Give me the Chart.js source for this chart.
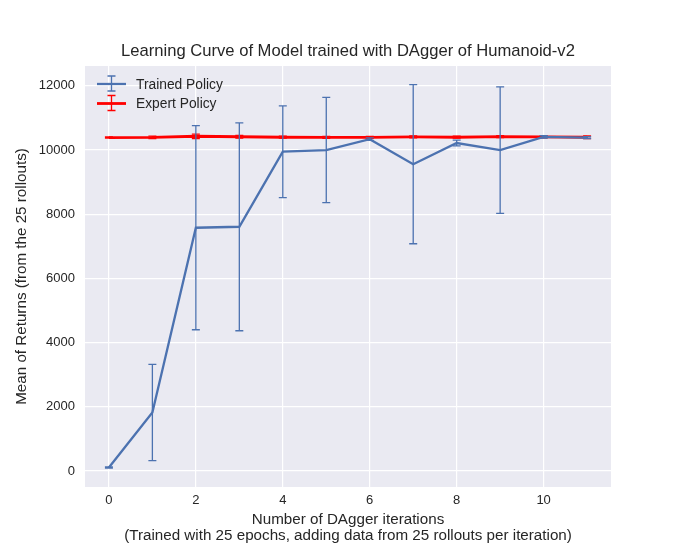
<!DOCTYPE html>
<html>
<head>
<meta charset="utf-8">
<script src="https://cdn.jsdelivr.net/npm/chart.js@4"></script>
<style>
  html, body { margin: 0; padding: 0; background: #fff; }
  #wrap { width: 679px; height: 547px; }
</style>
</head>
<body>
<div id="wrap"><canvas id="chart"></canvas></div>
<script>
// data
const iterations = [0, 1, 2, 3, 4, 5, 6, 7, 8, 9, 10, 11];
const trainedMean = [110, 1820, 7580, 7610, 9950, 10000, 10340, 9560, 10220, 10000, 10410, 10390];
const trainedStd = [20, 1500, 3180, 3240, 1430, 1640, 40, 2480, 90, 1970, 40, 30];
const expertMean = [10390, 10395, 10430, 10415, 10400, 10395, 10395, 10410, 10400, 10420, 10410, 10400];
const expertStd = [20, 40, 70, 40, 30, 30, 30, 30, 30, 30, 30, 40];
const xTicks = [0, 2, 4, 6, 8, 10];
const yTicks = [0, 2000, 4000, 6000, 8000, 10000, 12000];
const chartTitle = "Learning Curve of Model trained with DAgger of Humanoid-v2";

const BLUE = "#4C72B0";
const RED = "#FF0000";
const TEXT = "#262626";
const FONT = "'Liberation Sans', Arial, sans-serif";

function points(means) {
  return iterations.map((x, i) => ({ x: x, y: means[i] }));
}

// grey plot area like the seaborn darkgrid style, title centred over it
const background = {
  id: "background",
  beforeDraw(chart) {
    const { ctx, chartArea: a } = chart;
    ctx.save();
    ctx.fillStyle = "#EAEAF2";
    ctx.fillRect(a.left, a.top, a.right - a.left, a.bottom - a.top);
    ctx.fillStyle = TEXT;
    ctx.font = "16.6px " + FONT;
    ctx.textAlign = "center";
    ctx.textBaseline = "middle";
    ctx.fillText(chartTitle, (a.left + a.right) / 2, 51);
    ctx.restore();
  }
};

// vertical error bars with caps, drawn right after each dataset's line
const errorBars = {
  id: "errorBars",
  afterDatasetDraw(chart, args) {
    const ds = chart.data.datasets[args.index];
    if (!ds.errors) return;
    const { ctx, scales: { x, y } } = chart;
    ctx.save();
    ctx.strokeStyle = ds.borderColor;
    ctx.lineWidth = 1.3;
    ds.data.forEach((p, i) => {
      const px = x.getPixelForValue(p.x);
      const top = y.getPixelForValue(p.y + ds.errors[i]);
      const bot = y.getPixelForValue(p.y - ds.errors[i]);
      ctx.beginPath();
      ctx.moveTo(px, top); ctx.lineTo(px, bot);
      ctx.moveTo(px - 4, top); ctx.lineTo(px + 4, top);
      ctx.moveTo(px - 4, bot); ctx.lineTo(px + 4, bot);
      ctx.stroke();
    });
    ctx.restore();
  }
};

// legend in the upper left corner, with errorbar symbols
const errLegend = {
  id: "errLegend",
  afterDraw(chart) {
    const { ctx } = chart;
    const entries = chart.data.datasets;
    ctx.save();
    entries.forEach((ds, i) => {
      const cy = 84 + i * 19.5;
      ctx.strokeStyle = ds.borderColor;
      ctx.lineWidth = ds.borderWidth;
      ctx.beginPath();
      ctx.moveTo(97, cy); ctx.lineTo(126, cy);
      ctx.stroke();
      ctx.lineWidth = 1.3;
      ctx.beginPath();
      ctx.moveTo(111.5, cy - 8); ctx.lineTo(111.5, cy + 7);
      ctx.moveTo(107.5, cy - 8); ctx.lineTo(115.5, cy - 8);
      ctx.moveTo(107.5, cy + 7); ctx.lineTo(115.5, cy + 7);
      ctx.stroke();
      ctx.fillStyle = TEXT;
      ctx.font = "13.8px " + FONT;
      ctx.textBaseline = "middle";
      ctx.fillText(ds.label, 136, cy + 1);
    });
    ctx.restore();
  }
};

new Chart(document.getElementById("chart"), {
  type: "line",
  data: {
    datasets: [
      {
        label: "Trained Policy",
        data: points(trainedMean),
        errors: trainedStd,
        borderColor: BLUE,
        borderWidth: 2.3,
        pointRadius: 0,
        tension: 0
      },
      {
        label: "Expert Policy",
        data: points(expertMean),
        errors: expertStd,
        borderColor: RED,
        borderWidth: 2.8,
        pointRadius: 0,
        tension: 0
      }
    ]
  },
  options: {
    responsive: true,
    maintainAspectRatio: false,
    animation: false,
    layout: { padding: { left: 0, right: 68, top: 66, bottom: 0 } },
    plugins: {
      legend: { display: false },
      tooltip: { enabled: false },
      title: { display: false }
    },
    scales: {
      x: {
        type: "linear",
        min: -0.55,
        max: 11.55,
        afterBuildTicks(scale) { scale.ticks = xTicks.map(v => ({ value: v })); },
        afterFit(scale) { scale.height = 60; },
        grid: { color: "#ffffff", lineWidth: 1.2, drawTicks: false },
        border: { display: false },
        ticks: { color: TEXT, padding: 6, font: { family: FONT, size: 13 }, callback: v => String(v) },
        title: {
          display: true,
          text: ["Number of DAgger iterations", "(Trained with 25 epochs, adding data from 25 rollouts per iteration)"],
          color: TEXT,
          font: { family: FONT, size: 15.2, lineHeight: 1.05 },
          padding: { top: 0, bottom: 3 }
        }
      },
      y: {
        type: "linear",
        min: -500,
        max: 12620,
        afterBuildTicks(scale) { scale.ticks = yTicks.map(v => ({ value: v })); },
        afterFit(scale) { scale.width = 85; },
        grid: { color: "#ffffff", lineWidth: 1.2, drawTicks: false },
        border: { display: false },
        ticks: { color: TEXT, padding: 10, font: { family: FONT, size: 13 }, callback: v => String(v) },
        title: {
          display: true,
          text: "Mean of Returns (from the 25 rollouts)",
          color: TEXT,
          font: { family: FONT, size: 15.2, lineHeight: 1.05 },
          padding: { top: 14, bottom: 0 }
        }
      }
    }
  },
  plugins: [background, errorBars, errLegend]
});
</script>
</body>
</html>
